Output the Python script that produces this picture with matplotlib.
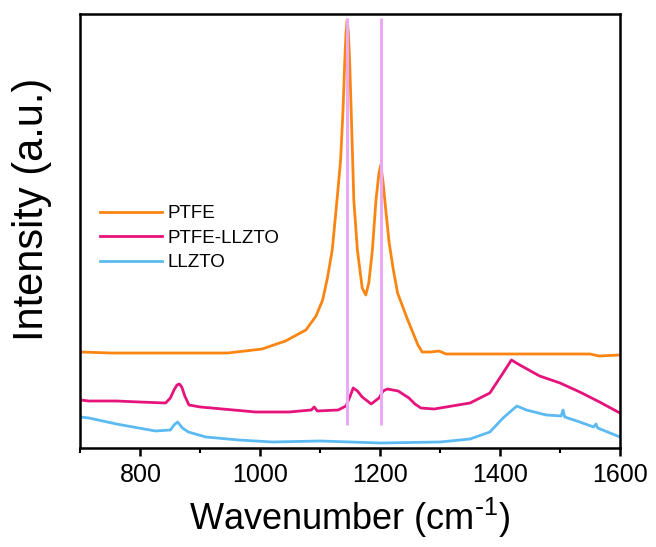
import matplotlib
matplotlib.use('Agg')
import matplotlib.pyplot as plt
from matplotlib.ticker import MultipleLocator

plt.rcParams['font.family'] = ['Liberation Sans', 'DejaVu Sans']
plt.rcParams['mathtext.default'] = 'regular'

# Raman spectra (arbitrary intensity units)
ptfe_x = [700, 750, 800, 850, 900, 946, 1003, 1042, 1076, 1093, 1104, 1112,
          1120, 1128, 1134, 1138, 1141, 1143, 1145, 1147, 1149, 1152, 1154,
          1156, 1162, 1170, 1176, 1181, 1187, 1193, 1198, 1201, 1205, 1209,
          1215, 1222, 1229, 1246, 1263, 1270, 1285, 1298, 1310, 1350, 1400,
          1450, 1500, 1550, 1565, 1600]
ptfe_y = [96, 95, 95, 95, 95, 95, 99, 107, 118, 132, 148, 170,
          198, 248, 288, 338, 388, 415, 428, 415, 388, 330, 290,
          248, 198, 160, 153, 165, 198, 248, 275, 283, 265, 240,
          205, 178, 155, 128, 103, 96, 96, 97, 94, 94, 94,
          94, 94, 94, 92, 93]

mix_x = [700, 714, 760, 798, 842, 850, 856, 861, 865, 869, 874, 881, 900, 937,
         992, 1048, 1085, 1090, 1095, 1130, 1143, 1150, 1155, 1162, 1170, 1185,
         1198, 1205, 1212, 1230, 1248, 1258, 1268, 1290, 1350, 1383, 1405,
         1419, 1433, 1466, 1500, 1533, 1566, 1600]
mix_y = [48, 47, 47, 46, 45, 50, 58, 63, 64, 61, 52, 43, 41, 39,
         36, 36, 38, 41, 37, 38, 42, 52, 60, 57, 51, 44,
         50, 57, 59, 57, 50, 44, 40, 39, 45, 55, 75,
         88, 83, 72, 65, 56, 46, 35]

llzto_x = [700, 714, 760, 825, 850, 856, 862, 870, 880, 909, 964, 1020, 1100,
           1200, 1300, 1350, 1383, 1405, 1428, 1444, 1477, 1502, 1505, 1508,
           1533, 1556, 1560, 1563, 1600]
llzto_y = [31, 30, 24, 17, 18, 23, 26, 20, 16, 11, 8, 6, 7,
           5, 6, 9, 16, 30, 42, 38, 33, 32, 38, 31,
           26, 21, 24, 20, 11]

marker_lines = [1145, 1202]

fig = plt.figure(figsize=(6.56, 5.47), dpi=100)
ax = fig.add_axes([0.1227, 0.181, 0.8223, 0.7934])

ax.vlines(marker_lines, 23, 430, color='#e9a9f5', lw=2.2, zorder=3)
ax.plot(ptfe_x, ptfe_y, color='#fb8512', lw=2.0, label='PTFE', zorder=2)
ax.plot(mix_x, mix_y, color='#e6137c', lw=2.0, label='PTFE-LLZTO', zorder=2)
ax.plot(llzto_x, llzto_y, color='#5bbaf2', lw=2.0, label='LLZTO', zorder=2)

ax.set_xlim(700, 1600)
ax.set_ylim(0, 434)
ax.xaxis.set_major_locator(MultipleLocator(200))
ax.xaxis.set_minor_locator(MultipleLocator(100))
ax.set_yticks([])
ax.tick_params(axis='x', which='major', length=6, width=1.8, labelsize=18, pad=5)
ax.tick_params(axis='x', which='minor', length=3.5, width=1.5)
for s in ax.spines.values():
    s.set_linewidth(1.8)

ax.set_xlabel('Wavenumber (cm$^{\\text{-}1}$)', fontsize=26, labelpad=6)
ax.set_ylabel('Intensity (a.u.)', fontsize=30)
ax.yaxis.set_label_coords(-0.052, 0.55)

ax.legend(loc='upper left', bbox_to_anchor=(0.036, 0.56), frameon=False,
          fontsize=13.5, handlelength=3.3, handletextpad=0.3, labelspacing=0.4,
          borderpad=0, borderaxespad=0)

fig.savefig('out.png', dpi=100)
